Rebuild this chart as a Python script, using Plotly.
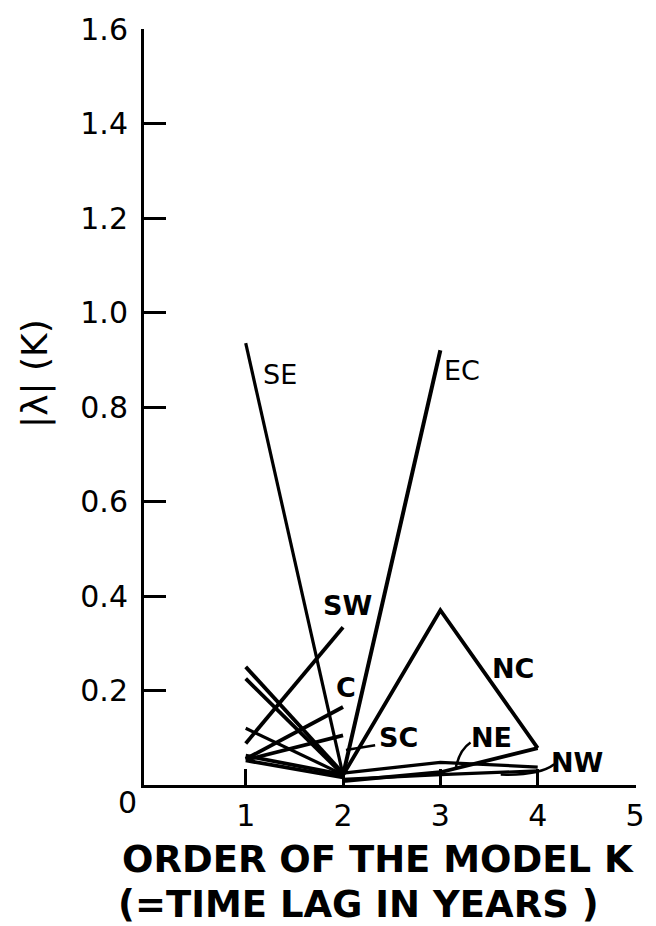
import plotly.graph_objects as go

# Model order K (time lag in years)
order_k = [1, 2, 3, 4]

# |lambda|(K) per region; None where the region has no value at that order
se = [0.935, 0.021, None, None]
ec = [None, 0.021, 0.92, None]
sw = [0.088, 0.334, None, None]
c_reg = [0.055, 0.165, None, None]
sc = [0.053, 0.105, None, None]
nc = [None, 0.021, 0.37, 0.078]
ne = [None, 0.008, 0.027, 0.078]
nw = [None, 0.012, 0.022, 0.03]
other_a = [0.25, 0.025, None, None]
other_b = [0.225, 0.022, None, None]
other_c = [0.12, 0.022, None, None]
other_d = [0.062, 0.022, None, None]
other_e = [0.052, 0.016, None, None]
other_f = [None, 0.025, 0.048, 0.038]

series = [
    (se, 3.2), (ec, 4), (sw, 3.8), (c_reg, 3.8), (sc, 3.8), (nc, 3.8),
    (ne, 3.8), (nw, 3.2), (other_a, 3.8), (other_b, 3.8), (other_c, 3.2),
    (other_d, 3.8), (other_e, 3.8), (other_f, 3.2),
]

region_labels = ["SE", "EC", "SW", "C", "SC", "NC", "NE", "NW"]
label_x = [1.35, 3.22, 2.05, 2.03, 2.57, 3.75, 3.53, 4.40]
label_y = [0.868, 0.878, 0.38, 0.206, 0.10, 0.246, 0.10, 0.048]
label_bold = [False, False, True, True, True, True, True, True]

y_ticks = [0.2, 0.4, 0.6, 0.8, 1.0, 1.2, 1.4, 1.6]
x_ticks = [1, 2, 3, 4, 5]

FONT = "DejaVu Sans"

fig = go.Figure()
for vals, w in series:
    fig.add_trace(go.Scatter(
        x=order_k, y=vals, mode="lines",
        line=dict(color="black", width=w),
        connectgaps=False, hoverinfo="skip",
    ))

for txt, lx, ly, bold in zip(region_labels, label_x, label_y, label_bold):
    fig.add_annotation(
        x=lx, y=ly, text=txt, showarrow=False,
        xanchor="center", yanchor="middle",
        font=dict(family=FONT, size=27, color="black",
                  weight="bold" if bold else "normal"),
    )

# leader strokes from labels to their curves
leaders = [
    "M 2.33,0.084 L 2.03,0.074",
    "M 3.31,0.090 Q 3.20,0.075 3.16,0.038",
    "M 4.17,0.044 Q 4.02,0.020 3.62,0.022",
]
for p in leaders:
    fig.add_shape(type="path", path=p, xref="x", yref="y",
                  line=dict(color="black", width=2.5))

# origin label and axis titles
fig.add_annotation(xref="paper", yref="paper", x=-0.034, y=-0.0236,
                   text="0", showarrow=False, xanchor="center", yanchor="middle",
                   font=dict(family=FONT, size=30, color="black"))
fig.add_annotation(xref="paper", yref="paper", x=0.475, y=-0.0984,
                   text="ORDER OF THE MODEL K", showarrow=False,
                   xanchor="center", yanchor="middle",
                   font=dict(family=FONT, size=37, color="black", weight="bold"))
fig.add_annotation(xref="paper", yref="paper", x=0.435, y=-0.1575,
                   text="(=TIME LAG IN YEARS )", showarrow=False,
                   xanchor="center", yanchor="middle",
                   font=dict(family=FONT, size=37, color="black", weight="bold"))
fig.add_annotation(xref="paper", yref="paper", x=-0.2216, y=0.545,
                   text="|λ| (K)", showarrow=False, textangle=-90,
                   xanchor="center", yanchor="middle",
                   font=dict(family=FONT, size=36, color="black"))

fig.update_layout(
    width=656, height=926,
    margin=dict(l=144, r=11, t=23, b=141),
    paper_bgcolor="white", plot_bgcolor="white",
    showlegend=False,
    xaxis=dict(
        range=[-0.045, 5.01], tickvals=x_ticks,
        ticktext=[str(v) for v in x_ticks],
        ticks="inside", ticklen=16, tickwidth=2.5, tickcolor="black",
        showline=True, linewidth=3, linecolor="black",
        showgrid=False, zeroline=False, ticklabelstandoff=2,
        tickfont=dict(family=FONT, size=30, color="black"),
    ),
    yaxis=dict(
        range=[0, 1.6], tickvals=y_ticks,
        ticktext=[f"{v:.1f}" for v in y_ticks],
        ticks="inside", ticklen=22, tickwidth=2.5, tickcolor="black",
        showline=True, linewidth=3, linecolor="black",
        showgrid=False, zeroline=False, ticklabelstandoff=7,
        tickfont=dict(family=FONT, size=30, color="black"),
    ),
)

fig.write_html("out.html")
